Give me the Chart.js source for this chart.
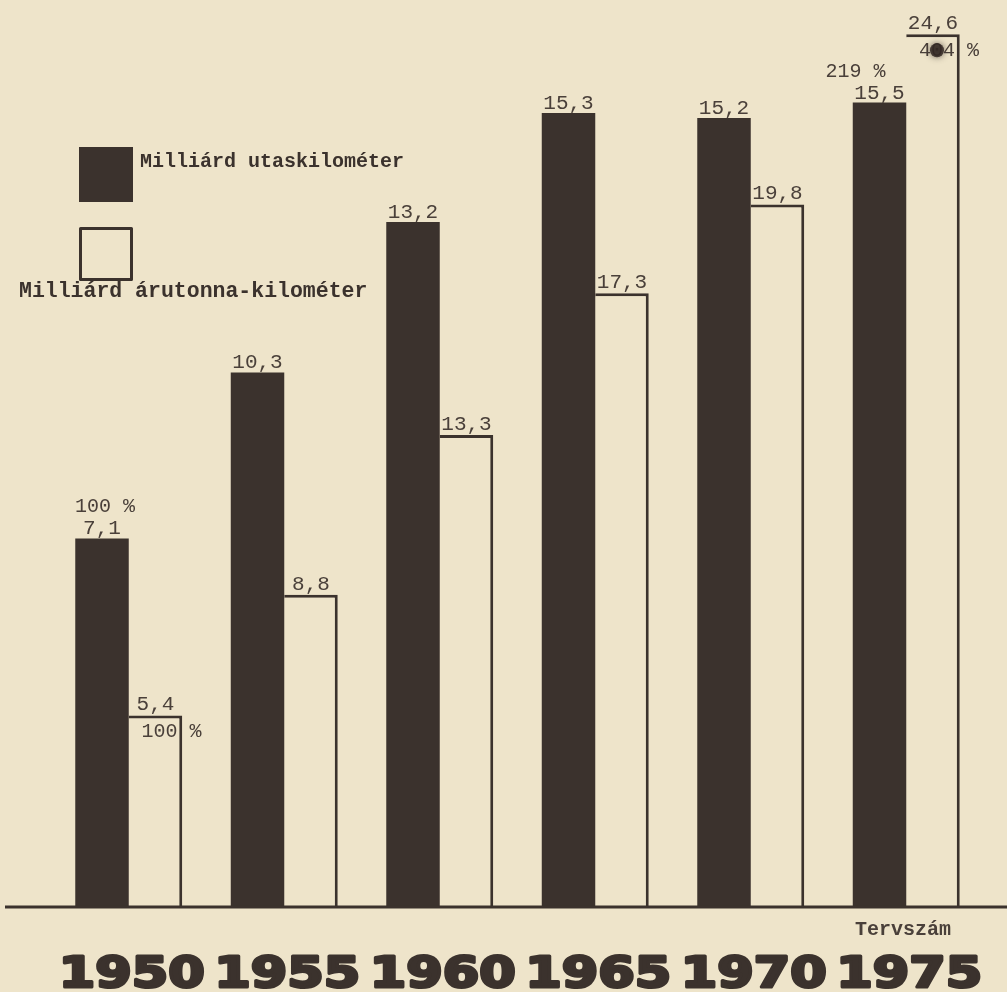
<!DOCTYPE html>
<html>
<head>
<meta charset="utf-8">
<script src="https://cdn.jsdelivr.net/npm/chart.js@4.4.1/dist/chart.umd.min.js"></script>
<style>
  html, body { margin: 0; padding: 0; background: #eee4ca; }
  #wrap { width: 1007px; height: 992px; }
</style>
</head>
<body>
<div id="wrap"><canvas id="c" width="1007" height="992"></canvas></div>
<script>
// ---- data ----
const years = ['1950', '1955', '1960', '1965', '1970', '1975'];
const passengerKm = [7.1, 10.3, 13.2, 15.3, 15.2, 15.5];      // Milliárd utaskilométer
const freightTonKm = [5.4, 8.8, 13.3, 17.3, 19.8, 24.6];      // Milliárd árutonna-kilométer
const passengerPct = ['100 %', '', '', '', '', '219 %'];
const freightPct = ['100 %', '', '', '', '', '404 %'];
const seriesNames = ['Milliárd utaskilométer', 'Milliárd árutonna-kilométer'];
const footnote = 'Tervszám';

// ---- style ----
const BG = '#eee4ca';
const DARK = '#3b322d';
const INK = '#4a403a';
const MONO = '"Liberation Mono", "DejaVu Sans Mono", monospace';

const fmt = v => v.toFixed(1).replace('.', ',');

const paperPlugin = {
  id: 'paper',
  beforeDraw(chart) {
    const ctx = chart.ctx;
    ctx.save();
    ctx.fillStyle = BG;
    ctx.fillRect(0, 0, chart.width, chart.height);
    ctx.restore();
  },
  afterDatasetsDraw(chart) {
    const ctx = chart.ctx;
    const xs = chart.scales.x;
    const y0 = chart.scales.y.getPixelForValue(0);
    ctx.save();
    // baseline
    ctx.strokeStyle = DARK;
    ctx.lineWidth = 3;
    ctx.beginPath();
    ctx.moveTo(5, y0);
    ctx.lineTo(chart.width, y0);
    ctx.stroke();

    // value labels
    ctx.fillStyle = INK;
    ctx.textBaseline = 'alphabetic';
    ctx.textAlign = 'center';
    const m0 = chart.getDatasetMeta(0);
    const m1 = chart.getDatasetMeta(1);
    const last = years.length - 1;
    m0.data.forEach((bar, i) => {
      ctx.font = '21px ' + MONO;
      ctx.fillText(fmt(passengerKm[i]), bar.x, bar.y - 4);
      if (passengerPct[i]) {
        ctx.font = '20px ' + MONO;
        ctx.fillText(passengerPct[i], bar.x + (i === last ? -24 : 3), bar.y - 26);
      }
    });
    m1.data.forEach((bar, i) => {
      ctx.font = '21px ' + MONO;
      ctx.fillText(fmt(freightTonKm[i]), bar.x, bar.y - 5);
      if (freightPct[i]) {
        ctx.font = '20px ' + MONO;
        ctx.fillText(freightPct[i], bar.x + 16, bar.y + 22);
        if (i === last) {
          ctx.save();
          ctx.fillStyle = 'rgba(50,40,36,0.85)';
          ctx.shadowColor = 'rgba(50,40,36,0.8)';
          ctx.shadowBlur = 6;
          ctx.beginPath();
          ctx.arc(bar.x + 4, bar.y + 16, 7, 0, Math.PI * 2);
          ctx.fill();
          ctx.restore();
        }
      }
    });

    // year labels along the category axis (heavy, wide)
    ctx.fillStyle = DARK;
    ctx.strokeStyle = DARK;
    ctx.lineJoin = 'round';
    ctx.textAlign = 'left';
    ctx.font = 'bold 43px "DejaVu Sans", sans-serif';
    chart.data.labels.forEach((lab, i) => {
      const w = ctx.measureText(lab).width;
      const sx = 146 / w;
      const cx = xs.getPixelForValue(i) + 3;
      ctx.save();
      ctx.translate(cx, 987);
      ctx.scale(sx, 1);
      ctx.lineWidth = 3;
      ctx.fillText(lab, -w / 2, 0);
      ctx.strokeText(lab, -w / 2, 0);
      ctx.restore();
    });

    // footnote
    ctx.textAlign = 'left';
    ctx.font = 'bold 20px ' + MONO;
    ctx.fillStyle = INK;
    ctx.fillText(footnote, 855, 935);

    // legend
    ctx.fillStyle = DARK;
    ctx.fillRect(79, 147, 54, 55);
    ctx.strokeStyle = DARK;
    ctx.lineWidth = 3;
    ctx.strokeRect(80.5, 228.5, 51, 51);
    ctx.fillStyle = DARK;
    ctx.font = 'bold 20px ' + MONO;
    ctx.fillText(chart.data.datasets[0].label, 140, 167);
    ctx.font = 'bold 21.5px ' + MONO;
    ctx.fillText(chart.data.datasets[1].label, 19, 297);
    ctx.restore();
  }
};

new Chart(document.getElementById('c'), {
  type: 'bar',
  data: {
    labels: years,
    datasets: [
      {
        label: seriesNames[0],
        data: passengerKm,
        yAxisID: 'y',
        backgroundColor: DARK,
        borderWidth: 0
      },
      {
        label: seriesNames[1],
        data: freightTonKm,
        yAxisID: 'y2',
        backgroundColor: BG,
        borderColor: DARK,
        borderWidth: { top: 3, right: 3, left: 0, bottom: 0 },
        borderSkipped: false
      }
    ]
  },
  options: {
    responsive: false,
    animation: false,
    devicePixelRatio: 1,
    barPercentage: 1,
    categoryPercentage: 0.688,
    layout: { padding: { left: 51, right: 23, top: 20, bottom: 0 } },
    plugins: { legend: { display: false }, tooltip: { enabled: false } },
    scales: {
      x: {
        offset: true,
        grid: { display: false },
        border: { display: false },
        ticks: { display: false },
        afterFit(scale) { scale.height = 85; }
      },
      y: { display: false, min: 0, max: 17.09 },
      y2: { display: false, min: 0, max: 25 }
    }
  },
  plugins: [paperPlugin]
});
</script>
</body>
</html>
